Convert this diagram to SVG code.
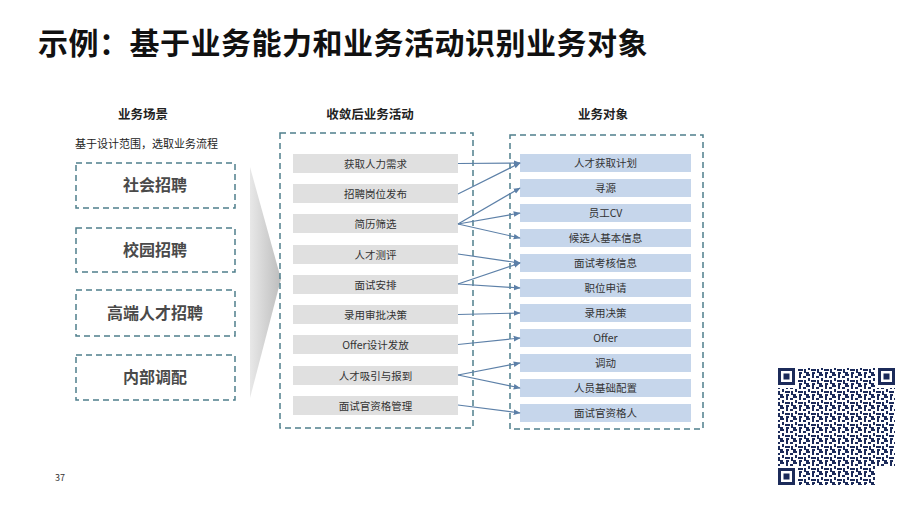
<svg xmlns="http://www.w3.org/2000/svg" width="900" height="506" viewBox="0 0 900 506">
<defs>
<style>
.t{font-family:"Noto Sans CJK SC","Noto Sans",sans-serif;}
.title{font-size:30px;font-weight:bold;fill:#111;letter-spacing:0.5px;}
.hdr{font-size:12.5px;font-weight:bold;fill:#222;text-anchor:middle;}
.sub{font-size:11px;fill:#222;}
.scn rect{fill:#fff;stroke:#4f7f8c;stroke-width:1.5;stroke-dasharray:6 4;}
.scn text{font-size:16px;fill:#4a4a4a;font-weight:bold;text-anchor:middle;}
.frame{fill:none;stroke:#4f7f8c;stroke-width:1.5;stroke-dasharray:6 4;}
.act rect{fill:#e0e0e0;}
.act text{font-size:10.5px;fill:#333;text-anchor:middle;}
.obj rect{fill:#c6d6eb;}
.obj text{font-size:10.5px;fill:#333;text-anchor:middle;}
.conn line{stroke:#5d80a8;stroke-width:1.2;marker-end:url(#ah);}
.qr{fill:#1c2b5a;}
</style>
<marker id="ah" viewBox="0 0 10 10" refX="9" refY="5" markerWidth="7" markerHeight="7" markerUnits="userSpaceOnUse" orient="auto">
<path d="M0,1 L10,5 L0,9 z" fill="#5d80a8"/>
</marker>
<linearGradient id="chev" x1="0" y1="0" x2="1" y2="0">
<stop offset="0" stop-color="#e8e8e8"/>
<stop offset="1" stop-color="#bdbdbd"/>
</linearGradient>
<pattern id="qrp" width="13" height="11" patternUnits="userSpaceOnUse">
<rect x="0" y="0" width="4" height="2" class="qr"/>
<rect x="6" y="0" width="2" height="4" class="qr"/>
<rect x="10" y="2" width="3" height="2" class="qr"/>
<rect x="2" y="4" width="2" height="3" class="qr"/>
<rect x="5" y="6" width="5" height="2" class="qr"/>
<rect x="11" y="6" width="2" height="4" class="qr"/>
<rect x="0" y="9" width="3" height="2" class="qr"/>
<rect x="6" y="9" width="3" height="2" class="qr"/>
</pattern>
</defs>
<rect width="900" height="506" fill="#fff"/>

<text class="t title" x="38" y="54">示例：基于业务能力和业务活动识别业务对象</text>

<text class="t hdr" x="143" y="119">业务场景</text>
<text class="t hdr" x="370" y="119">收敛后业务活动</text>
<text class="t hdr" x="603" y="119">业务对象</text>
<text class="t sub" x="75" y="148">基于设计范围，选取业务流程</text>

<polygon points="250,167 281,279 250,398" fill="url(#chev)"/>

<g id="scenarios" class="t scn">
<g id="s1"><rect x="76" y="163" width="159" height="45"/><text x="155" y="191">社会招聘</text></g>
<g id="s2"><rect x="76" y="228" width="159" height="44"/><text x="155" y="256">校园招聘</text></g>
<g id="s3"><rect x="76" y="290" width="159" height="46"/><text x="155" y="319">高端人才招聘</text></g>
<g id="s4"><rect x="76" y="355" width="159" height="45"/><text x="155" y="383">内部调配</text></g>
</g>

<rect class="frame" x="280" y="133" width="193" height="295"/>
<rect class="frame" x="510" y="135" width="193" height="294"/>

<g id="activities" class="t act">
<g id="a1"><rect x="293" y="154" width="165" height="19"/><text x="375.5" y="167.5">获取人力需求</text></g>
<g id="a2"><rect x="293" y="184" width="165" height="19"/><text x="375.5" y="197.5">招聘岗位发布</text></g>
<g id="a3"><rect x="293" y="214" width="165" height="19"/><text x="375.5" y="227.5">简历筛选</text></g>
<g id="a4"><rect x="293" y="245" width="165" height="19"/><text x="375.5" y="258.5">人才测评</text></g>
<g id="a5"><rect x="293" y="275" width="165" height="19"/><text x="375.5" y="288.5">面试安排</text></g>
<g id="a6"><rect x="293" y="305" width="165" height="19"/><text x="375.5" y="318.5">录用审批决策</text></g>
<g id="a7"><rect x="293" y="335" width="165" height="19"/><text x="375.5" y="348.5">Offer设计发放</text></g>
<g id="a8"><rect x="293" y="366" width="165" height="19"/><text x="375.5" y="379.5">人才吸引与报到</text></g>
<g id="a9"><rect x="293" y="396" width="165" height="19"/><text x="375.5" y="409.5">面试官资格管理</text></g>
</g>

<g id="objects" class="t obj">
<g id="o1"><rect x="520" y="154" width="171" height="18"/><text x="605.5" y="167">人才获取计划</text></g>
<g id="o2"><rect x="520" y="179" width="171" height="18"/><text x="605.5" y="192">寻源</text></g>
<g id="o3"><rect x="520" y="204" width="171" height="18"/><text x="605.5" y="217">员工CV</text></g>
<g id="o4"><rect x="520" y="229" width="171" height="18"/><text x="605.5" y="242">候选人基本信息</text></g>
<g id="o5"><rect x="520" y="254" width="171" height="18"/><text x="605.5" y="267">面试考核信息</text></g>
<g id="o6"><rect x="520" y="279" width="171" height="18"/><text x="605.5" y="292">职位申请</text></g>
<g id="o7"><rect x="520" y="304" width="171" height="18"/><text x="605.5" y="317">录用决策</text></g>
<g id="o8"><rect x="520" y="329" width="171" height="18"/><text x="605.5" y="342">Offer</text></g>
<g id="o9"><rect x="520" y="354" width="171" height="18"/><text x="605.5" y="367">调动</text></g>
<g id="o10"><rect x="520" y="379" width="171" height="18"/><text x="605.5" y="392">人员基础配置</text></g>
<g id="o11"><rect x="520" y="404" width="171" height="18"/><text x="605.5" y="417">面试官资格人</text></g>
</g>

<g id="connectors" class="conn">
<line x1="458" y1="163.5" x2="520" y2="163"/>
<line x1="458" y1="194" x2="520" y2="163"/>
<line x1="458" y1="224" x2="520" y2="188"/>
<line x1="458" y1="224" x2="520" y2="213"/>
<line x1="458" y1="224" x2="520" y2="238"/>
<line x1="458" y1="254" x2="520" y2="263"/>
<line x1="458" y1="284" x2="520" y2="263"/>
<line x1="458" y1="284" x2="520" y2="288"/>
<line x1="458" y1="314.5" x2="520" y2="313"/>
<line x1="458" y1="344.5" x2="520" y2="338"/>
<line x1="458" y1="375" x2="520" y2="363"/>
<line x1="458" y1="375" x2="520" y2="388"/>
<line x1="458" y1="405" x2="520" y2="413"/>
</g>

<text class="t" x="55" y="481" font-size="9" fill="#333">37</text>

<g id="qrcode">
<rect x="778" y="368" width="117" height="117" fill="#fff"/>
<rect x="798" y="368" width="78" height="117" fill="url(#qrp)"/>
<rect x="778" y="388" width="117" height="78" fill="url(#qrp)"/>
<rect x="776" y="366" width="22" height="22" fill="#fff"/>
<rect x="876" y="366" width="22" height="22" fill="#fff"/>
<rect x="776" y="466" width="22" height="22" fill="#fff"/>
<rect x="779.5" y="369.5" width="14" height="14" fill="none" stroke="#1c2b5a" stroke-width="3"/>
<rect x="783.5" y="373.5" width="6" height="6" class="qr"/>
<rect x="879.5" y="369.5" width="14" height="14" fill="none" stroke="#1c2b5a" stroke-width="3"/>
<rect x="883.5" y="373.5" width="6" height="6" class="qr"/>
<rect x="779.5" y="469.5" width="14" height="14" fill="none" stroke="#1c2b5a" stroke-width="3"/>
<rect x="783.5" y="473.5" width="6" height="6" class="qr"/>
</g>
</svg>
